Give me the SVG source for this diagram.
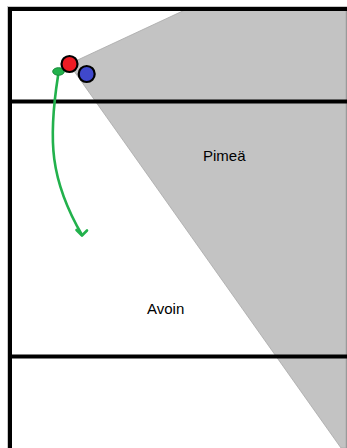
<svg xmlns="http://www.w3.org/2000/svg" width="347" height="448" viewBox="0 0 347 448">
  <style>
    .frame { stroke: #000; stroke-width: 4; fill: none; }
    .edge { stroke: #c8c8c8; stroke-width: 1; fill: none; }
    .label { font-family: "Liberation Sans", Arial, sans-serif; font-size: 15px; fill: #000; }
    .dot { stroke: #000; stroke-width: 2.2; }
    .arrow { stroke: #22b14c; stroke-width: 2.6; fill: none; stroke-linecap: round; stroke-linejoin: round; }
  </style>
  <rect width="347" height="448" fill="#fff"/>
  <g id="dark-zone">
    <polygon points="69,64 187,9 346,9 346,448 341,448" fill="#c3c3c3" stroke="#a8a8a8" stroke-width="0.8"/>
    <line x1="346.5" y1="9" x2="346.5" y2="448" stroke="#9a9a9a" stroke-width="1"/>
  </g>
  <g id="frame">
    <line class="edge" x1="7" y1="6.5" x2="347" y2="6.5"/>
    <line class="edge" x1="7.5" y1="6" x2="7.5" y2="448"/>
    <line class="frame" x1="8" y1="9" x2="347" y2="9"/>
    <line class="frame" x1="10" y1="7" x2="10" y2="448"/>
    <line class="frame" x1="8" y1="101.5" x2="347" y2="101.5"/>
    <line class="frame" x1="8" y1="356.5" x2="347" y2="356.5"/>
  </g>
  <g id="label-pimea">
    <text class="label" x="203" y="161">Pimeä</text>
  </g>
  <g id="label-avoin">
    <text class="label" x="147" y="314">Avoin</text>
  </g>
  <g id="connectors">
    <path class="arrow" d="M58,76 C48,140 50,180 82,235"/>
    <path class="arrow" d="M76.5,230 L82,235.5 L87,230.5"/>
  </g>
  <g id="green-marker">
    <ellipse cx="58.5" cy="71.5" rx="5.8" ry="3.8" fill="#22b14c" stroke="#168a38" stroke-width="1"/>
  </g>
  <g id="red-ball">
    <circle class="dot" cx="69.5" cy="64" r="8" fill="#ed1c24"/>
  </g>
  <g id="blue-ball">
    <circle class="dot" cx="86.7" cy="74" r="8" fill="#3f48cc"/>
  </g>
</svg>
